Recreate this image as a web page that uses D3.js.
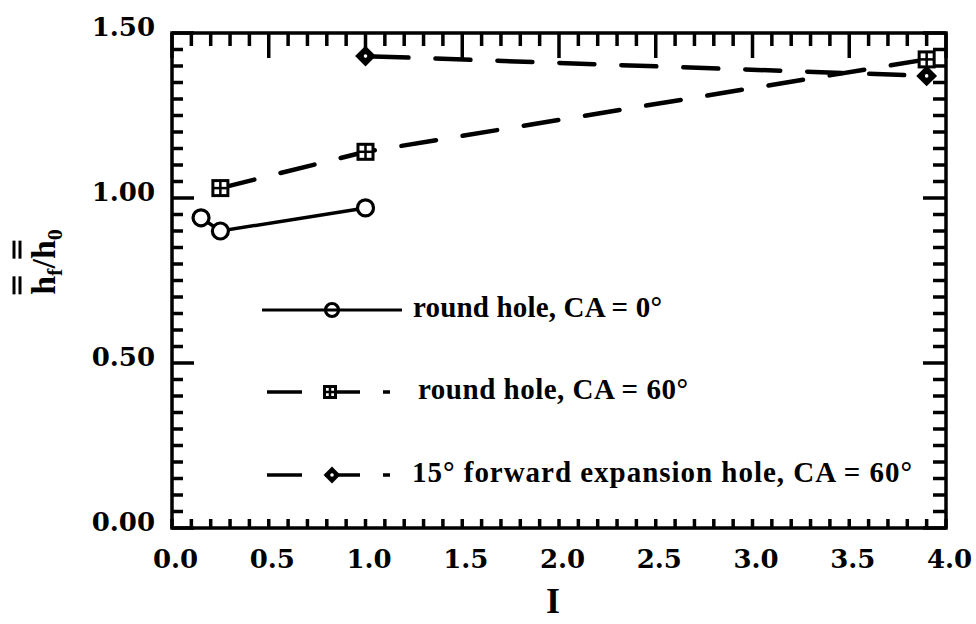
<!DOCTYPE html>
<html><head><meta charset="utf-8">
<script src="https://cdn.jsdelivr.net/npm/d3@7"></script>
<style>body{margin:0;background:#fff}svg{display:block}</style>
</head><body>
<svg id="chart" width="976" height="624"></svg>
<script>
// ---- data ----
const seriesNames = ["round hole, CA = 0°", "round hole, CA = 60°", "15° forward expansion hole, CA = 60°"];
const roundCA0_I = [0.15, 0.25, 1.0];
const roundCA0_H = [0.94, 0.90, 0.97];
const roundCA60_I = [0.25, 1.0, 3.9];
const roundCA60_H = [1.03, 1.14, 1.42];
const fwdExp_I = [1.0, 3.9];
const fwdExp_H = [1.43, 1.37];
const xTickLabels = [0.0, 0.5, 1.0, 1.5, 2.0, 2.5, 3.0, 3.5, 4.0];
const yTickLabels = [0.0, 0.5, 1.0, 1.5];
const xTitle = "I";

// ---- layout ----
const svg = d3.select("#chart");
const L = 172, R = 946, T = 33, B = 528;
const x = d3.scaleLinear().domain([0, 4]).range([L, R]);
const y = d3.scaleLinear().domain([0, 1.5]).range([B, T]);
const ink = "#000";
const tickFont = "'DejaVu Serif', serif";
const textFont = "'Liberation Serif', 'Times New Roman', serif";

const xMinor = x.ticks(40);
const yMinor = y.ticks(30);
const isMajor = v => Math.abs(v * 2 - Math.round(v * 2)) < 1e-6;
const tw = 3.5;

// frame
svg.append("rect").attr("x", L).attr("y", T).attr("width", R - L).attr("height", B - T)
  .attr("fill", "none").attr("stroke", ink).attr("stroke-width", 3.5);

// tick marks (inward) as filled rects
const tg = svg.append("g").attr("fill", ink);
tg.selectAll("rect.yl").data(yMinor).join("rect").attr("class", "yl")
  .attr("x", L).attr("y", d => y(d) - tw / 2).attr("height", tw)
  .attr("width", d => isMajor(d) ? 22 : 11);
tg.selectAll("rect.yr").data(yMinor).join("rect").attr("class", "yr")
  .attr("x", d => R - (isMajor(d) ? 23 : 13)).attr("y", d => y(d) - tw / 2).attr("height", tw)
  .attr("width", d => isMajor(d) ? 23 : 13);
tg.selectAll("rect.xt").data(xMinor).join("rect").attr("class", "xt")
  .attr("x", d => x(d) - tw / 2).attr("y", T).attr("width", tw)
  .attr("height", d => isMajor(d) ? 25 : 13);
tg.selectAll("rect.xb").data(xMinor).join("rect").attr("class", "xb")
  .attr("x", d => x(d) - tw / 2).attr("y", B - 9).attr("width", tw).attr("height", 9);

// tick labels via d3 axes (no tick lines)
svg.append("g").attr("transform", `translate(${L},0)`)
  .call(d3.axisLeft(y).tickValues(yTickLabels).tickSize(0).tickPadding(17).tickFormat(d3.format(".2f")))
  .call(g => { g.select(".domain").remove(); g.selectAll("text").attr("font-family", tickFont).attr("font-weight", "bold")
      .attr("font-size", 26).attr("fill", ink).attr("dy", "0.1em"); });
svg.append("g").attr("transform", `translate(0,${B})`)
  .call(d3.axisBottom(x).tickValues(xTickLabels).tickSize(0).tickPadding(22).tickFormat(d3.format(".1f")))
  .call(g => { g.select(".domain").remove(); g.selectAll("text").attr("font-family", tickFont).attr("font-weight", "bold")
      .attr("font-size", 26).attr("fill", ink).attr("dx", 3); });

// ---- lines ----
const line = d3.line().x(d => x(d[0])).y(d => y(d[1]));
const s1 = roundCA0_I.map((v, i) => [v, roundCA0_H[i]]);
const s2 = roundCA60_I.map((v, i) => [v, roundCA60_H[i]]);
const s3 = fwdExp_I.map((v, i) => [v, fwdExp_H[i]]);

svg.append("path").datum(s1).attr("d", line).attr("fill", "none").attr("stroke", ink).attr("stroke-width", 3.5);
svg.append("path").datum(s2).attr("d", line).attr("fill", "none").attr("stroke", ink).attr("stroke-width", 4.5)
  .attr("stroke-dasharray", "35,27").attr("stroke-linecap", "round");
svg.append("path").datum(s3).attr("d", line).attr("fill", "none").attr("stroke", ink).attr("stroke-width", 4.5)
  .attr("stroke-dasharray", "35,27").attr("stroke-dashoffset", -8).attr("stroke-linecap", "round");

// ---- markers ----
function circleMark(g, cx, cy, r) {
  g.append("circle").attr("cx", cx).attr("cy", cy).attr("r", r).attr("fill", "#fff").attr("stroke", ink).attr("stroke-width", 3.2);
}
function squareMark(g, cx, cy, s) {
  g.append("rect").attr("x", cx - s / 2).attr("y", cy - s / 2).attr("width", s).attr("height", s)
    .attr("fill", "#fff").attr("stroke", ink).attr("stroke-width", 3);
  g.append("line").attr("x1", cx - s / 2).attr("x2", cx + s / 2).attr("y1", cy).attr("y2", cy).attr("stroke", ink).attr("stroke-width", 2.5);
  g.append("line").attr("x1", cx).attr("x2", cx).attr("y1", cy - s / 2).attr("y2", cy + s / 2).attr("stroke", ink).attr("stroke-width", 2.5);
}
function diamondMark(g, cx, cy, h) {
  g.append("path").attr("d", `M${cx},${cy - h}L${cx + h},${cy}L${cx},${cy + h}L${cx - h},${cy}Z`)
    .attr("fill", ink).attr("stroke", ink).attr("stroke-width", 2);
  g.append("circle").attr("cx", cx).attr("cy", cy).attr("r", 1.8).attr("fill", "#fff");
}
const mg = svg.append("g");
s1.forEach(d => circleMark(mg, x(d[0]), y(d[1]), 8));
s2.forEach(d => squareMark(mg, x(d[0]), y(d[1]), 15));
s3.forEach(d => diamondMark(mg, x(d[0]), y(d[1]), 9));

// ---- legend ----
const lg = svg.append("g");
const legendRows = [310, 392, 475];
const legendTextX = [413, 418, 412];
const legendTextW = [249, 270, 500];
circleMark(lg, 332, legendRows[0], 6.5);
lg.append("line").attr("x1", 262).attr("x2", 402).attr("y1", legendRows[0]).attr("y2", legendRows[0]).attr("stroke", ink).attr("stroke-width", 3);
lg.append("line").attr("x1", 267).attr("x2", 390).attr("y1", legendRows[1]).attr("y2", legendRows[1]).attr("stroke", ink).attr("stroke-width", 3.5).attr("stroke-dasharray", "35,23");
squareMark(lg, 330, legendRows[1], 11);
lg.append("line").attr("x1", 267).attr("x2", 390).attr("y1", legendRows[2]).attr("y2", legendRows[2]).attr("stroke", ink).attr("stroke-width", 3.5).attr("stroke-dasharray", "35,23");
diamondMark(lg, 332, legendRows[2], 7);

seriesNames.forEach((n, i) => {
  lg.append("text").attr("x", legendTextX[i]).attr("y", legendRows[i] + 7).attr("font-family", textFont)
    .attr("font-weight", "bold").attr("font-size", 29).attr("fill", ink)
    .attr("textLength", legendTextW[i]).attr("lengthAdjust", "spacing").text(n);
});

// ---- axis titles ----
svg.append("text").attr("x", 553).attr("y", 613).attr("text-anchor", "middle").attr("font-family", textFont)
  .attr("font-weight", "bold").attr("font-size", 36).attr("fill", ink).text(xTitle);

const yl = svg.append("g").attr("transform", "translate(55,262) rotate(-90)");
const yt = yl.append("text").attr("text-anchor", "middle").attr("font-family", textFont)
  .attr("font-weight", "bold").attr("font-size", 34).attr("fill", ink);
yt.append("tspan").text("h");
yt.append("tspan").attr("font-size", 22).attr("dy", 7).text("f");
yt.append("tspan").attr("dy", -7).text("/h");
yt.append("tspan").attr("font-size", 22).attr("dy", 7).text("0");
[0, 3].forEach(ci => {
  const ext = yt.node().getExtentOfChar(ci);
  const cx = ext.x + ext.width / 2;
  [-35, -41].forEach(by => {
    yl.append("line").attr("x1", cx - 9).attr("x2", cx + 9).attr("y1", by).attr("y2", by)
      .attr("stroke", ink).attr("stroke-width", 3);
  });
});
</script>
</body></html>
